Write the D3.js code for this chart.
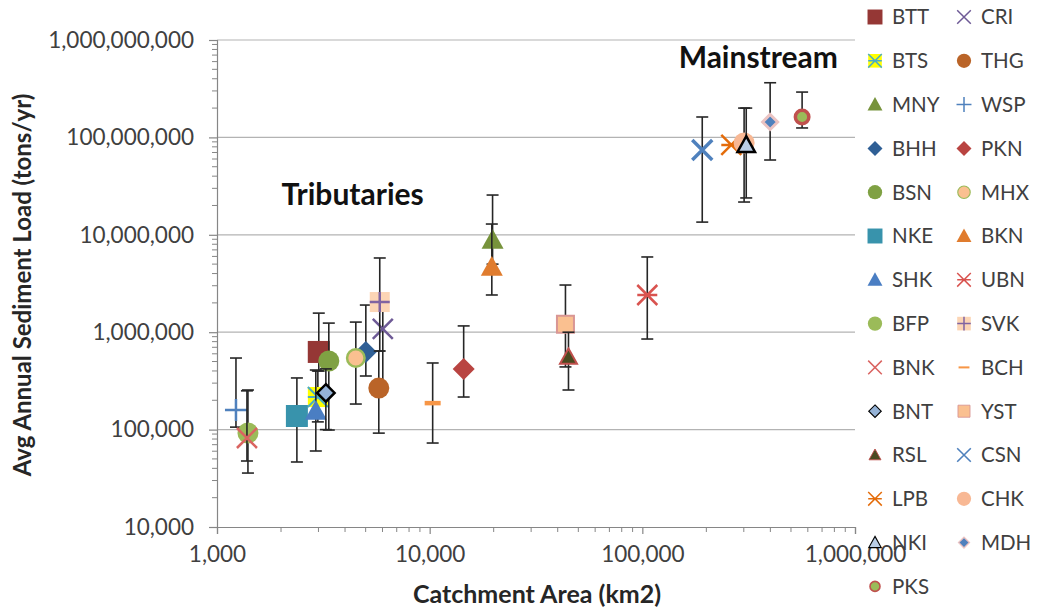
<!DOCTYPE html>
<html>
<head>
<meta charset="utf-8">
<script src="https://cdn.jsdelivr.net/npm/d3@7"></script>
<style>
  html, body { margin: 0; padding: 0; background: #fff; }
  svg { display: block; font-family: Lato, "Noto Sans", sans-serif; }
</style>
</head>
<body>
<svg id="chart" width="1037" height="612"></svg>
<script>
// Sampling sites, in series order
const sites = ["BTT","CRI","BTS","THG","MNY","WSP","BHH","PKN","BSN","MHX","NKE","BKN","SHK","UBN",
               "BFP","SVK","BNK","BCH","BNT","YST","RSL","CSN","LPB","CHK","NKI","MDH","PKS"];
// Catchment area (km2)
const area = [3010, 6020, 2980, 5765, 19760, 1228, 5010, 14450, 3355, 4495, 2375, 19600, 2915, 105500,
              1398, 5825, 1383, 10330, 3250, 43500, 44950, 191300, 262000, 301000, 308000, 399000, 564000];
// Average annual sediment load (tons/yr)
const load = [627000, 1080000, 216000, 267000, 8850000, 159000, 627000, 419000, 506000, 543000, 138000,
              4670000, 155000, 2410000, 92300, 2040000, 82000, 187000, 238000, 1210000, 556000,
              74300000, 83600000, 87700000, 83600000, 144000000, 162000000];
// Upper and lower bounds of the load estimate (null = no bar)
const loadHigh = [1570000, 1900000, 400000, 641000, 25600000, 543000, 1900000, 1160000, 1240000, 1270000,
                  339000, 12900000, 409000, 5920000, 255000, 5780000, 250000, 483000, 420000, 3050000,
                  1000000, 162000000, null, 200000000, 200000000, 364000000, 292000000];
const loadLow = [400000, 267000, 120000, 92000, 5000000, 106000, 355000, 216000, 99000, 183000,
                 46500, 2410000, 60300, 851000, 35800, 641000, 47600, 72800, 100000, 440000,
                 255000, 13500000, 21700000, 21700000, 23900000, 58600000, 125000000];

// Axis ticks
const xTicks = [1000, 10000, 100000, 1000000];
const yTicks = [10000, 100000, 1000000, 10000000, 100000000, 1000000000];

// Text annotations (anchored at their centre / baseline)
const groupLabels = [
  { text: "Tributaries", x: 4345, y: 20200000 },
  { text: "Mainstream", x: 351000, y: 516000000 }
];

// Marker styling per site
const styles = {
  BTT: { shape: "square",   size: 22, fill: "#953735", stroke: "#953735", sw: 0 },
  CRI: { shape: "cross",    size: 20, fill: "none",    stroke: "#6E5A96", sw: 2.5 },
  BTS: { shape: "star",     size: 20, fill: "#FFFF00", stroke: "#4BACC6", sw: 2, box: true },
  THG: { shape: "circle",   size: 21, fill: "#BA6428", stroke: "#BA6428", sw: 0 },
  MNY: { shape: "triangle", size: 22, fill: "#77933C", stroke: "#77933C", sw: 0 },
  WSP: { shape: "plus",     size: 22, fill: "none",    stroke: "#4F81BD", sw: 2.5 },
  BHH: { shape: "diamond",  size: 22, fill: "#2F5F95", stroke: "#2F5F95", sw: 0 },
  PKN: { shape: "diamond",  size: 22, fill: "#B94441", stroke: "#B94441", sw: 0 },
  BSN: { shape: "circle",   size: 21, fill: "#7FA143", stroke: "#7FA143", sw: 0 },
  MHX: { shape: "circle",   size: 20, fill: "#FAC090", stroke: "#9BBB59", sw: 2.5 },
  NKE: { shape: "square",   size: 22, fill: "#3893AC", stroke: "#3893AC", sw: 0 },
  BKN: { shape: "triangle", size: 22, fill: "#E07C2E", stroke: "#E07C2E", sw: 0 },
  SHK: { shape: "triangle", size: 22, fill: "#4A7EC3", stroke: "#4A7EC3", sw: 0 },
  UBN: { shape: "star",     size: 20, fill: "none",    stroke: "#D9534F", sw: 2.5 },
  BFP: { shape: "circle",   size: 21, fill: "#9BBB59", stroke: "#9BBB59", sw: 0 },
  SVK: { shape: "plus",     size: 20, fill: "#FCD5B5", stroke: "#8064A2", sw: 2.5, box: true },
  BNK: { shape: "cross",    size: 20, fill: "none",    stroke: "#DA6461", sw: 2.5 },
  BCH: { shape: "dash",     size: 20, fill: "none",    stroke: "#F79646", sw: 4.5 },
  BNT: { shape: "diamond",  size: 20, fill: "#95B3D7", stroke: "#000000", sw: 2.5 },
  YST: { shape: "square",   size: 19, fill: "#FAC090", stroke: "#D99694", sw: 2 },
  RSL: { shape: "triangle", size: 19, fill: "#4A4A20", stroke: "#C0504D", sw: 2 },
  CSN: { shape: "cross",    size: 20, fill: "none",    stroke: "#4F81BD", sw: 3.5 },
  LPB: { shape: "star",     size: 20, fill: "none",    stroke: "#E46C0A", sw: 2.5 },
  CHK: { shape: "circle",   size: 21, fill: "#F8B894", stroke: "#F8B894", sw: 0 },
  NKI: { shape: "triangle", size: 20, fill: "#B9CDE5", stroke: "#000000", sw: 2.5 },
  MDH: { shape: "diamond",  size: 18, fill: "#4F81BD", stroke: "#EBC3C2", sw: 3 },
  PKS: { shape: "circle",   size: 17, fill: "#9BBB59", stroke: "#C0504D", sw: 3.5 }
};

// Marker outlines, centred on the origin
function markerPath(shape, s) {
  const h = s / 2;
  switch (shape) {
    case "square":   return `M${-h},${-h}H${h}V${h}H${-h}Z`;
    case "diamond":  return `M0,${-h}L${h},0L0,${h}L${-h},0Z`;
    case "triangle": return `M0,${-h}L${h},${h * 0.8}L${-h},${h * 0.8}Z`;
    case "cross":    return `M${-h},${-h}L${h},${h}M${h},${-h}L${-h},${h}`;
    case "plus":     return `M${-h},0H${h}M0,${-h}V${h}`;
    case "star":     return `M${-h},${-h}L${h},${h}M${h},${-h}L${-h},${h}M${-h},0H${h}`;
    case "dash":     return `M${-h * 0.8},0H${h * 0.8}`;
    default:         return "";
  }
}

// Draws one marker; `scale` shrinks it for the legend, `swScale` thins outlines
function drawMarker(g, st, scale, swScale) {
  const s = st.size * scale;
  const sw = (st.sw || 0) * swScale;
  if (st.shape === "circle") {
    g.append("circle").attr("r", s / 2 - sw / 2)
      .attr("fill", st.fill).attr("stroke", sw ? st.stroke : "none")
      .attr("stroke-width", sw);
    return;
  }
  if (st.box) {
    const h = s / 2;
    g.append("rect").attr("x", -h).attr("y", -h).attr("width", s).attr("height", s)
      .attr("fill", st.fill);
  }
  const isLine = ["cross", "plus", "star", "dash"].includes(st.shape);
  const inset = isLine ? 0 : sw / 2;
  g.append("path").attr("d", markerPath(st.shape, s - inset * 2))
    .attr("fill", isLine ? "none" : st.fill)
    .attr("stroke", sw ? st.stroke : "none")
    .attr("stroke-width", isLine ? Math.max(sw, 1.5) : sw)
    .attr("stroke-linejoin", "miter");
}

const svg = d3.select("#chart");
const plot = { left: 217, right: 855, top: 40, bottom: 527 };

const x = d3.scaleLog().domain([1000, 1000000]).range([plot.left, plot.right]);
const y = d3.scaleLog().domain([10000, 1000000000]).range([plot.bottom, plot.top]);

const axisColor = "#868686";
const labelColor = "#404040";

// Horizontal gridlines at each decade
svg.append("g").selectAll("line").data(yTicks.slice(1)).join("line")
  .attr("x1", plot.left).attr("x2", plot.right)
  .attr("y1", d => y(d)).attr("y2", d => y(d))
  .attr("stroke", "#B3B3B3").attr("stroke-width", 1.2);

// Minor (log) tick values
function minorTicks(ticks) {
  const out = [];
  for (let i = 0; i < ticks.length - 1; i++)
    for (let k = 2; k <= 9; k++) out.push(ticks[i] * k);
  return out;
}

// Y axis
const yAxis = svg.append("g").attr("transform", `translate(${plot.left},0)`)
  .call(d3.axisLeft(y).tickValues(yTicks).tickFormat(d3.format(",")).tickSize(8).tickPadding(15));
yAxis.select(".domain").attr("stroke", axisColor).attr("stroke-width", 1.2);
yAxis.selectAll(".tick line").attr("stroke", axisColor).attr("stroke-width", 1.2);
yAxis.selectAll(".tick text").attr("fill", labelColor).attr("font-size", 22.5)
  .attr("font-family", "Lato, sans-serif");
yAxis.append("g").selectAll("line").data(minorTicks(yTicks)).join("line")
  .attr("x1", -5).attr("x2", 0).attr("y1", d => y(d)).attr("y2", d => y(d))
  .attr("stroke", axisColor).attr("stroke-width", 1);

// X axis
const xAxis = svg.append("g").attr("transform", `translate(0,${plot.bottom})`)
  .call(d3.axisBottom(x).tickValues(xTicks).tickFormat(d3.format(",")).tickSize(7).tickPadding(12));
xAxis.select(".domain").attr("stroke", axisColor).attr("stroke-width", 1.2);
xAxis.selectAll(".tick line").attr("stroke", axisColor).attr("stroke-width", 1.2);
xAxis.selectAll(".tick text").attr("fill", labelColor).attr("font-size", 22.5)
  .attr("font-family", "Lato, sans-serif");
xAxis.append("g").selectAll("line").data(minorTicks(xTicks)).join("line")
  .attr("x1", d => x(d)).attr("x2", d => x(d)).attr("y1", 0).attr("y2", 5)
  .attr("stroke", axisColor).attr("stroke-width", 1);

// Axis titles
svg.append("text").attr("x", 537).attr("y", 603).attr("text-anchor", "middle")
  .attr("font-size", 25).attr("font-weight", "bold").attr("fill", "#262626")
  .text("Catchment Area (km2)");
svg.append("text").attr("transform", "translate(31,285) rotate(-90)").attr("text-anchor", "middle")
  .attr("font-size", 24).attr("font-weight", "bold").attr("fill", "#262626")
  .text("Avg Annual Sediment Load (tons/yr)");

// Group annotations
svg.append("g").selectAll("text").data(groupLabels).join("text")
  .attr("x", d => x(d.x)).attr("y", d => y(d.y)).attr("text-anchor", "middle")
  .attr("font-size", 30).attr("font-weight", "bold").attr("fill", "#111")
  .text(d => d.text);

// Series: error bar then marker, in series order
const series = sites.map((name, i) => ({ name, area: area[i], load: load[i], hi: loadHigh[i], lo: loadLow[i] }));
const cap = 6;
const seriesG = svg.append("g");
series.forEach(d => {
  const g = seriesG.append("g");
  const cx = x(d.area);
  if (d.hi != null && d.lo != null) {
    const eb = g.append("g").attr("stroke", "#262626").attr("stroke-width", 1.6);
    eb.append("line").attr("x1", cx).attr("x2", cx).attr("y1", y(d.hi)).attr("y2", y(d.lo));
    eb.append("line").attr("x1", cx - cap).attr("x2", cx + cap).attr("y1", y(d.hi)).attr("y2", y(d.hi));
    eb.append("line").attr("x1", cx - cap).attr("x2", cx + cap).attr("y1", y(d.lo)).attr("y2", y(d.lo));
  }
  const m = g.append("g").attr("transform", `translate(${cx},${y(d.load)})`);
  drawMarker(m, styles[d.name], 1, 1);
});

// Legend: two columns, row by row
const legend = svg.append("g");
const rowH = 43.8;
sites.forEach((name, i) => {
  const col = i % 2, row = Math.floor(i / 2);
  const gx = col === 0 ? 875 : 964;
  const gy = 17 + row * rowH;
  const g = legend.append("g").attr("transform", `translate(${gx},${gy})`);
  drawMarker(g, styles[name], 0.68, 0.45);
  g.append("text").attr("x", 17).attr("y", 0).attr("dy", "0.36em")
    .attr("font-size", 20.5).attr("fill", labelColor).text(name);
});
</script>
</body>
</html>
